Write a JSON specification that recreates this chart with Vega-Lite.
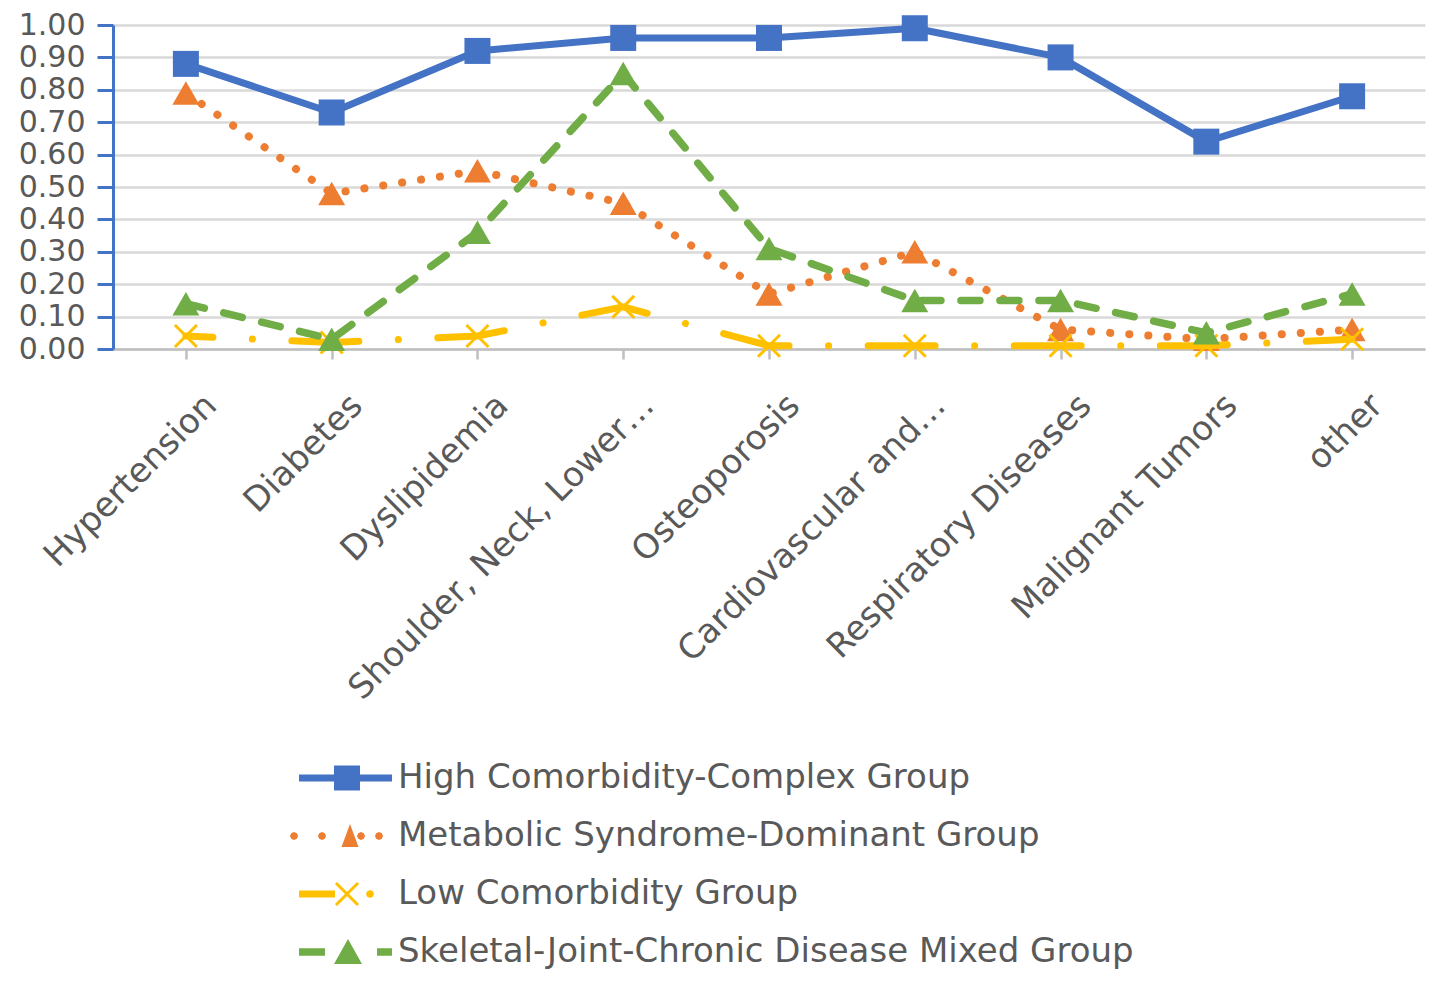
{
  "$schema": "https://vega.github.io/schema/vega-lite/v6.json",
  "width": 1312,
  "height": 324,
  "autosize": {"type": "none"},
  "padding": {"left": 113, "top": 25, "right": 16, "bottom": 637},
  "background": "white",
  "config": {"view": {"stroke": null}, "font": "DejaVu Sans"},
  "data": {
    "values": [
      {"category": "Hypertension", "group": "High Comorbidity-Complex Group", "value": 0.88},
      {"category": "Diabetes", "group": "High Comorbidity-Complex Group", "value": 0.73},
      {"category": "Dyslipidemia", "group": "High Comorbidity-Complex Group", "value": 0.92},
      {"category": "Shoulder, Neck, Lower…", "group": "High Comorbidity-Complex Group", "value": 0.96},
      {"category": "Osteoporosis", "group": "High Comorbidity-Complex Group", "value": 0.96},
      {"category": "Cardiovascular and…", "group": "High Comorbidity-Complex Group", "value": 0.99},
      {"category": "Respiratory Diseases", "group": "High Comorbidity-Complex Group", "value": 0.90},
      {"category": "Malignant Tumors", "group": "High Comorbidity-Complex Group", "value": 0.64},
      {"category": "other", "group": "High Comorbidity-Complex Group", "value": 0.78},
      {"category": "Hypertension", "group": "Metabolic Syndrome-Dominant Group", "value": 0.79},
      {"category": "Diabetes", "group": "Metabolic Syndrome-Dominant Group", "value": 0.48},
      {"category": "Dyslipidemia", "group": "Metabolic Syndrome-Dominant Group", "value": 0.55},
      {"category": "Shoulder, Neck, Lower…", "group": "Metabolic Syndrome-Dominant Group", "value": 0.45},
      {"category": "Osteoporosis", "group": "Metabolic Syndrome-Dominant Group", "value": 0.17},
      {"category": "Cardiovascular and…", "group": "Metabolic Syndrome-Dominant Group", "value": 0.30},
      {"category": "Respiratory Diseases", "group": "Metabolic Syndrome-Dominant Group", "value": 0.06},
      {"category": "Malignant Tumors", "group": "Metabolic Syndrome-Dominant Group", "value": 0.03},
      {"category": "other", "group": "Metabolic Syndrome-Dominant Group", "value": 0.06},
      {"category": "Hypertension", "group": "Low Comorbidity Group", "value": 0.04},
      {"category": "Diabetes", "group": "Low Comorbidity Group", "value": 0.02},
      {"category": "Dyslipidemia", "group": "Low Comorbidity Group", "value": 0.04},
      {"category": "Shoulder, Neck, Lower…", "group": "Low Comorbidity Group", "value": 0.13},
      {"category": "Osteoporosis", "group": "Low Comorbidity Group", "value": 0.01},
      {"category": "Cardiovascular and…", "group": "Low Comorbidity Group", "value": 0.01},
      {"category": "Respiratory Diseases", "group": "Low Comorbidity Group", "value": 0.01},
      {"category": "Malignant Tumors", "group": "Low Comorbidity Group", "value": 0.01},
      {"category": "other", "group": "Low Comorbidity Group", "value": 0.03},
      {"category": "Hypertension", "group": "Skeletal-Joint-Chronic Disease Mixed Group", "value": 0.14},
      {"category": "Diabetes", "group": "Skeletal-Joint-Chronic Disease Mixed Group", "value": 0.03},
      {"category": "Dyslipidemia", "group": "Skeletal-Joint-Chronic Disease Mixed Group", "value": 0.36},
      {"category": "Shoulder, Neck, Lower…", "group": "Skeletal-Joint-Chronic Disease Mixed Group", "value": 0.85},
      {"category": "Osteoporosis", "group": "Skeletal-Joint-Chronic Disease Mixed Group", "value": 0.31},
      {"category": "Cardiovascular and…", "group": "Skeletal-Joint-Chronic Disease Mixed Group", "value": 0.15},
      {"category": "Respiratory Diseases", "group": "Skeletal-Joint-Chronic Disease Mixed Group", "value": 0.15},
      {"category": "Malignant Tumors", "group": "Skeletal-Joint-Chronic Disease Mixed Group", "value": 0.05},
      {"category": "other", "group": "Skeletal-Joint-Chronic Disease Mixed Group", "value": 0.17}
    ]
  },
  "encoding": {
    "x": {
      "field": "category",
      "type": "nominal",
      "sort": null,
      "scale": {
        "type": "point",
        "padding": 0.5,
        "domain": ["Hypertension", "Diabetes", "Dyslipidemia", "Shoulder, Neck, Lower…", "Osteoporosis", "Cardiovascular and…", "Respiratory Diseases", "Malignant Tumors", "other"]
      },
      "axis": {
        "title": null,
        "labelAngle": -45,
        "labelAlign": "right",
        "labelBaseline": "top",
        "labelFont": "DejaVu Sans",
        "labelFontSize": 34,
        "labelColor": "#595959",
        "labelLimit": 0,
        "labelOffset": 13,
        "labelPadding": 29,
        "labelOverlap": false,
        "domainColor": "#BFBFBF",
        "domainWidth": 2.5,
        "tickColor": "#BFBFBF",
        "tickWidth": 2.5,
        "tickSize": 10,
        "grid": false
      }
    },
    "y": {
      "field": "value",
      "type": "quantitative",
      "scale": {"domain": [0, 1], "nice": false},
      "axis": {
        "title": null,
        "values": [0, 0.1, 0.2, 0.3, 0.4, 0.5, 0.6, 0.7, 0.8, 0.9, 1.0],
        "format": ".2f",
        "labelFont": "DejaVu Sans",
        "labelFontSize": 30,
        "labelColor": "#595959",
        "labelPadding": 12,
        "labelOverlap": false,
        "domainColor": "#4472C4",
        "domainWidth": 3,
        "tickColor": "#4472C4",
        "tickWidth": 3,
        "tickSize": 16,
        "grid": true,
        "gridColor": "#D9D9D9",
        "gridWidth": 2.5
      }
    },
    "color": {
      "field": "group",
      "type": "nominal",
      "scale": {
        "domain": ["High Comorbidity-Complex Group", "Metabolic Syndrome-Dominant Group", "Low Comorbidity Group", "Skeletal-Joint-Chronic Disease Mixed Group"],
        "range": ["#4472C4", "#ED7D31", "#FFC000", "#70AD47"]
      },
      "legend": {
        "title": null,
        "orient": "none",
        "legendX": 217,
        "legendY": 736,
        "direction": "vertical",
        "padding": 0,
        "labelFont": "DejaVu Sans",
        "labelFontSize": 34,
        "labelColor": "#595959",
        "labelLimit": 0,
        "labelOffset": 34,
        "symbolSize": 100,
        "symbolStrokeWidth": 0,
        "rowPadding": 24,
        "encode": {
          "symbols": {
            "update": {
              "shape": {"signal": "datum.value == 'High Comorbidity-Complex Group' ? 'M-9.6,-0.7H9V0.7H-9.6Z M-2.6,-2.5H2.6V2.5H-2.6Z' : datum.value == 'Metabolic Syndrome-Dominant Group' ? 'M-9.8,0L-10.03,0.57L-10.6,0.8L-11.17,0.57L-11.4,0L-11.17,-0.57L-10.6,-0.8L-10.03,-0.57Z M-4.2,0L-4.43,0.57L-5,0.8L-5.57,0.57L-5.8,0L-5.57,-0.57L-5,-0.8L-4.43,-0.57Z M3.6,0L3.37,0.57L2.8,0.8L2.23,0.57L2,0L2.23,-0.57L2.8,-0.8L3.37,-0.57Z M7.2,0L6.97,0.57L6.4,0.8L5.83,0.57L5.6,0L5.83,-0.57L6.4,-0.8L6.97,-0.57Z M0.6,-2.4L2.3,2.2L-1.1,2.2Z' : datum.value == 'Low Comorbidity Group' ? 'M-9.6,-0.7H-2.4V0.7H-9.6Z M-1.99,-2.41L2.41,1.99L1.99,2.41L-2.41,-1.99Z M-1.99,2.41L-2.41,1.99L1.99,-2.41L2.41,-1.99Z M5.4,0L5.17,0.57L4.6,0.8L4.03,0.57L3.8,0L4.03,-0.57L4.6,-0.8L5.17,-0.57Z' : 'M-9.6,-0.75H-4.4V0.75H-9.6Z M0.2,-2.6L3,2.4L-2.6,2.4Z M6,-0.75H9V0.75H6Z'"},
              "fill": {"signal": "scale('color', datum.value)"},
              "stroke": {"value": "transparent"},
              "strokeWidth": {"value": 0},
              "opacity": {"value": 1},
              "size": {"value": 100}
            }
          }
        }
      }
    }
  },
  "layer": [
    {
      "transform": [{"filter": {"field": "group", "equal": "High Comorbidity-Complex Group"}}],
      "mark": {"type": "line", "strokeWidth": 7, "strokeCap": "round", "strokeJoin": "round"}
    },
    {
      "transform": [{"filter": {"field": "group", "equal": "High Comorbidity-Complex Group"}}],
      "mark": {"type": "point", "filled": true, "shape": "square", "size": 676, "opacity": 1}
    },
    {
      "transform": [{"filter": {"field": "group", "equal": "Metabolic Syndrome-Dominant Group"}}],
      "mark": {"type": "line", "strokeWidth": 8, "strokeCap": "round", "strokeDash": [0.1, 19]}
    },
    {
      "transform": [{"filter": {"field": "group", "equal": "Metabolic Syndrome-Dominant Group"}}],
      "mark": {"type": "point", "filled": true, "shape": "M0,-0.87L1,0.87L-1,0.87Z", "size": 729, "opacity": 1}
    },
    {
      "transform": [{"filter": {"field": "group", "equal": "Low Comorbidity Group"}}],
      "mark": {"type": "line", "strokeWidth": 7, "strokeCap": "round", "strokeDash": [67, 39.5, 0.1, 39.5], "strokeDashOffset": 40}
    },
    {
      "transform": [{"filter": {"field": "group", "equal": "Low Comorbidity Group"}}],
      "mark": {"type": "point", "filled": false, "shape": "M-1,-1L1,1M-1,1L1,-1", "size": 484, "strokeWidth": 3, "opacity": 1}
    },
    {
      "transform": [{"filter": {"field": "group", "equal": "Skeletal-Joint-Chronic Disease Mixed Group"}}],
      "mark": {"type": "line", "strokeWidth": 7.5, "strokeCap": "round", "strokeDash": [19, 20]}
    },
    {
      "transform": [{"filter": {"field": "group", "equal": "Skeletal-Joint-Chronic Disease Mixed Group"}}],
      "mark": {"type": "point", "filled": true, "shape": "M0,-0.87L1,0.87L-1,0.87Z", "size": 729, "opacity": 1}
    }
  ]
}
